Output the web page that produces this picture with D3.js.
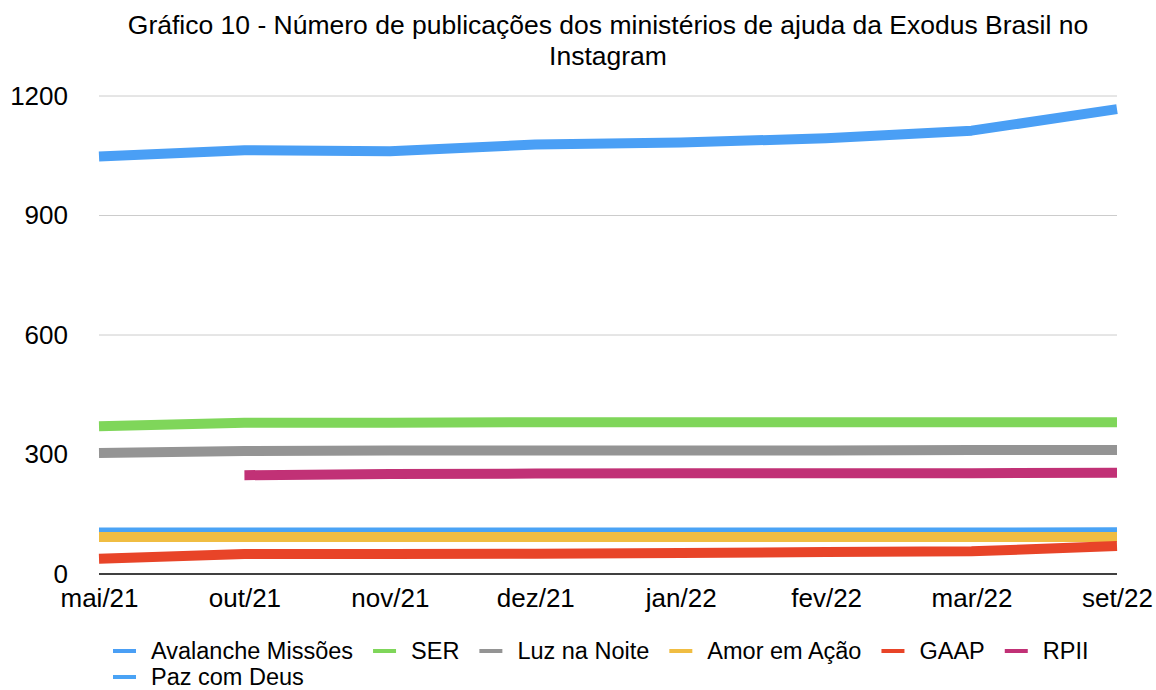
<!DOCTYPE html>
<html>
<head>
<meta charset="utf-8">
<title>Gráfico 10</title>
<style>
  body { margin: 0; background: #fff; }
  svg { display: block; font-family: "Liberation Sans", Arial, Helvetica, sans-serif; }
</style>
</head>
<body>
<div id="chart"></div>
<script src="https://d3js.org/d3.v7.min.js"></script>
<script>
// data
var months = ["mai/21", "out/21", "nov/21", "dez/21", "jan/22", "fev/22", "mar/22", "set/22"];
var avalanche = [1048, 1064, 1061, 1078, 1083, 1094, 1113, 1167];
var ser       = [371, 380, 380, 381, 381, 381, 381, 381];
var luz       = [304, 309, 310, 310, 310, 310, 311, 311];
var amor      = [93, 93, 93, 93, 93, 93, 93, 93];
var gaap      = [38, 50, 50, 51, 53, 55, 57, 70];
var rpii      = [null, 248, 251, 252, 253, 253, 253, 254];
var paz       = [104, 104, 104, 104, 104, 104, 104, 105];
var yTicks    = [0, 300, 600, 900, 1200];

var names  = ["Avalanche Missões", "SER", "Luz na Noite", "Amor em Ação", "GAAP", "RPII", "Paz com Deus"];
var values = [avalanche, ser, luz, amor, gaap, rpii, paz];
var colors = ["#4a9ff5", "#7fd65a", "#949494", "#f0bd42", "#e84428", "#c13176", "#4aa3f5"];
// paz drawn first: it sits under the yellow line in the original
var drawOrder = [6, 0, 1, 2, 3, 4, 5];

var width = 1156, height = 690;
var margin = {left: 99, right: 39, top: 96, bottom: 116};

var svg = d3.select("#chart").append("svg")
    .attr("width", width)
    .attr("height", height);

var x = d3.scalePoint()
    .domain(months)
    .range([margin.left, width - margin.right]);

var y = d3.scaleLinear()
    .domain([0, 1200])
    .range([height - margin.bottom, margin.top]);

// title
svg.append("text")
    .attr("x", 608).attr("y", 34)
    .attr("text-anchor", "middle")
    .style("font-size", "26.5px")
    .text("Gráfico 10 - Número de publicações dos ministérios de ajuda da Exodus Brasil no");
svg.append("text")
    .attr("x", 608).attr("y", 65)
    .attr("text-anchor", "middle")
    .style("font-size", "26.5px")
    .text("Instagram");

// gridlines
svg.append("g")
    .selectAll("line")
    .data(yTicks.filter(function(d){ return d > 0; }))
    .enter().append("line")
    .attr("x1", x.range()[0]).attr("x2", x.range()[1])
    .attr("y1", function(d){ return y(d); })
    .attr("y2", function(d){ return y(d); })
    .attr("stroke", "#cccccc")
    .attr("stroke-width", 1);

// y axis labels
var yAxis = d3.axisLeft(y).tickValues(yTicks).tickFormat(d3.format("d")).tickSize(0).tickPadding(0);
svg.append("g")
    .attr("transform", "translate(68,0)")
    .call(yAxis)
    .call(function(g){ g.select(".domain").remove(); })
    .selectAll("text")
    .style("font-size", "26px")
    .style("font-family", "Liberation Sans, Arial, sans-serif")
    .attr("fill", "#000");

// lines
var line = d3.line()
    .defined(function(d){ return d != null; })
    .x(function(d, i){ return x(months[i]); })
    .y(function(d){ return y(d); });

svg.append("g")
    .selectAll("path")
    .data(drawOrder)
    .enter().append("path")
    .attr("d", function(k){ return line(values[k]); })
    .attr("fill", "none")
    .attr("stroke", function(k){ return colors[k]; })
    .attr("stroke-width", 10)
    .attr("stroke-linejoin", "round")
    .attr("stroke-linecap", "butt");

// x axis
var xAxis = d3.axisBottom(x).tickSize(0).tickPadding(0);
svg.append("g")
    .attr("transform", "translate(0," + y(0) + ")")
    .call(xAxis)
    .call(function(g){
        g.select(".domain").remove();
        g.selectAll("text").attr("dy", null).attr("y", 33);
    })
    .selectAll("text")
    .style("font-size", "26px")
    .style("font-family", "Liberation Sans, Arial, sans-serif")
    .attr("fill", "#000");

svg.append("line")
    .attr("x1", x.range()[0]).attr("x2", x.range()[1])
    .attr("y1", y(0)).attr("y2", y(0))
    .attr("stroke", "#000")
    .attr("stroke-width", 1.5);

// legend: six items in row one, last one wraps
var legend = svg.append("g");
var lx = 113, ly = 659;
names.forEach(function(name, i){
    if (i == 6) { lx = 113; ly = 685; }
    legend.append("line")
        .attr("x1", lx).attr("x2", lx + 23)
        .attr("y1", ly - 8).attr("y2", ly - 8)
        .attr("stroke", colors[i])
        .attr("stroke-width", 4);
    var t = legend.append("text")
        .attr("x", lx + 38).attr("y", ly)
        .style("font-size", "23.5px")
        .text(name);
    lx = lx + 38 + t.node().getComputedTextLength() + 20;
});
</script>
</body>
</html>
